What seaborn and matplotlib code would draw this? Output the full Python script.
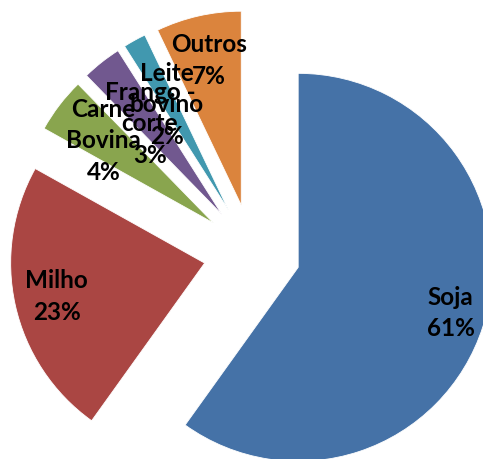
import matplotlib
matplotlib.use("Agg")
import matplotlib.pyplot as plt
import seaborn as sns
import numpy as np

# dados
categorias = ["Soja", "Milho", "Carne\nBovina", "Frango -\ncorte", "Leite\nbovino", "Outros"]
rotulos_pct = [61, 23, 4, 3, 2, 7]                 # percentuais escritos nos rotulos
fatias = [59.9, 23.2, 4.6, 3.3, 1.9, 7.1]          # tamanho das fatias
cores = ["#4572A7", "#AA4643", "#89A54E", "#71588F", "#4198AF", "#DB843D"]

sns.set_theme(style="white")
plt.rcParams["font.family"] = ["Lato", "DejaVu Sans"]

fig = plt.figure(figsize=(4.83, 4.60), dpi=100)
ax = fig.add_axes([0, 0, 1, 1])

raio = 194
centro = (252, 206.5)
wedges, _ = ax.pie(fatias, colors=sns.color_palette(cores), startangle=90,
                   counterclock=False, radius=raio, center=centro,
                   explode=[48.5] * len(fatias),
                   wedgeprops=dict(edgecolor="white", linewidth=0.6))

# posicao dos rotulos (fracao do raio, desvio angular)
dist_rot = [0.82, 0.78, 0.71, 0.60, 0.635, 0.77]
desvio_ang = [1.5, -0.3, 0.3, -0.2, 1.2, -0.3]
for w, cat, p, d, da in zip(wedges, categorias, rotulos_pct, dist_rot, desvio_ang):
    ang = np.deg2rad((w.theta1 + w.theta2) / 2 + da)
    cx, cy = w.center
    ax.text(cx + d * raio * np.cos(ang), cy + d * raio * np.sin(ang),
            f"{cat}\n{p}%", ha="center", va="center", fontsize=17.5,
            fontweight="bold", color="black", linespacing=1.45)

ax.set_xlim(0, 483)
ax.set_ylim(0, 460)
ax.set_aspect("equal")
ax.axis("off")

fig.savefig("out.png", dpi=100)
